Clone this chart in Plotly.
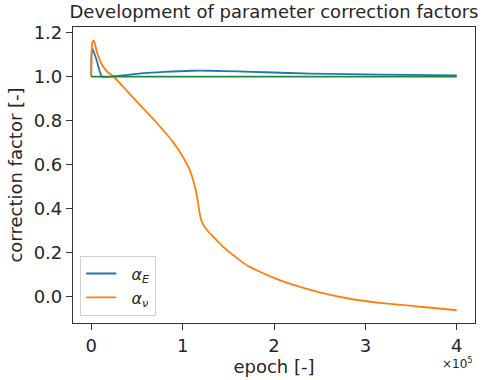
import plotly.graph_objects as go

# Data (epochs, correction factors)
epoch_nu = [0, 500, 1200, 2500, 4000, 6000, 8000, 11000, 14000, 18000, 24000, 38000,
            54000, 72000, 90000, 101000, 108500, 114000, 116000, 117600, 119500, 121300,
            127000, 134000, 145000, 156000, 170600, 189000, 207000, 225000, 251000,
            287500, 324000, 360500, 400000]
alpha_nu = [1.0, 1.12, 1.155, 1.165, 1.15, 1.115, 1.09, 1.06, 1.04, 1.02, 1.002, 0.940,
            0.868, 0.788, 0.700, 0.630, 0.568, 0.490, 0.449, 0.404, 0.360, 0.337,
            0.300, 0.270, 0.223, 0.186, 0.141, 0.104, 0.073, 0.048, 0.017,
            -0.014, -0.033, -0.047, -0.063]

epoch_E = [0, 400, 1400, 3000, 6200, 9000, 12000, 30000, 54000, 80000, 110000, 130000,
           160000, 190000, 240000, 320000, 400000]
alpha_E = [1.0, 1.11, 1.126, 1.11, 1.07, 1.027, 1.0, 1.004, 1.015, 1.022, 1.027, 1.027,
           1.024, 1.02, 1.014, 1.009, 1.006]

epoch_ref = [0, 400000]
alpha_ref = [1.0, 1.0]

xtick_vals = [0, 100000, 200000, 300000, 400000]
xtick_text = ["0", "1", "2", "3", "4"]
ytick_vals = [0.0, 0.2, 0.4, 0.6, 0.8, 1.0, 1.2]
ytick_text = ["0.0", "0.2", "0.4", "0.6", "0.8", "1.0", "1.2"]

FONT = "DejaVu Sans"
TXT = "#262626"

fig = go.Figure()
fig.add_trace(go.Scatter(x=epoch_E, y=alpha_E, mode="lines",
                         name="  <i>α</i><sub><i>E</i></sub>",
                         line=dict(color="#1f77b4", width=1.8, shape="spline", smoothing=0.6)))
fig.add_trace(go.Scatter(x=epoch_nu, y=alpha_nu, mode="lines",
                         name="  <i>α</i><sub><i>ν</i></sub>",
                         line=dict(color="#ff7f0e", width=1.8, shape="spline", smoothing=0.8)))
fig.add_trace(go.Scatter(x=epoch_ref, y=alpha_ref, mode="lines", showlegend=False,
                         line=dict(color="#1a8a3a", width=1.8)))

fig.update_layout(
    width=486, height=380,
    margin=dict(l=73, r=10, t=27, b=53),
    paper_bgcolor="white", plot_bgcolor="white",
    font=dict(family=FONT, size=18, color=TXT),
    title=dict(text="Development of parameter correction factors", x=0.5,
               xref="paper", xanchor="center", y=0.968, yanchor="middle",
               font=dict(size=18, color=TXT)),
    showlegend=True,
    legend=dict(x=0.018, y=0.025, xanchor="left", yanchor="bottom",
                bgcolor="rgba(255,255,255,0.8)", bordercolor="#d0d0d0", borderwidth=1,
                font=dict(size=16, color=TXT), tracegroupgap=0, itemwidth=30),
)
fig.update_xaxes(range=[-20000, 420000], tickvals=xtick_vals, ticktext=xtick_text,
                 showgrid=False, zeroline=False, showline=True, mirror=True,
                 linecolor="#333333", linewidth=1.2, ticks="outside", ticklen=6,
                 tickcolor="#333333", tickfont=dict(size=18, color=TXT),
                 title=dict(text="epoch [-]", font=dict(size=18, color=TXT), standoff=2))
fig.update_yaxes(range=[-0.121, 1.226], tickvals=ytick_vals, ticktext=ytick_text,
                 showgrid=False, zeroline=False, showline=True, mirror=True,
                 linecolor="#333333", linewidth=1.2, ticks="outside", ticklen=6,
                 tickcolor="#333333", tickfont=dict(size=18, color=TXT),
                 title=dict(text="correction factor [-]", font=dict(size=18, color=TXT), standoff=6))
fig.add_annotation(text="×10<sup>5</sup>", xref="paper", yref="paper",
                   x=1.0, y=-0.1, xanchor="right", yanchor="top", showarrow=False,
                   font=dict(size=12, color=TXT))

fig.write_html("out.html")
